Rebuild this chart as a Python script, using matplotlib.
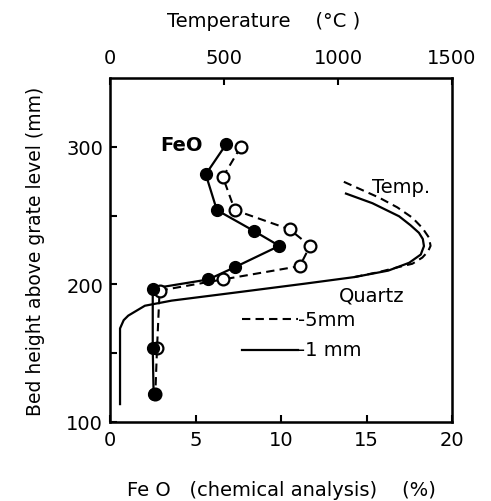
import matplotlib

matplotlib.use("Agg")
import matplotlib.pyplot as plt

plt.rcParams["font.family"] = ["DejaVu Sans"]

# FeO (%) vs bed height (mm)
height_1mm = [302, 280, 254, 238.6, 228, 212.5, 203.6, 197, 153.6, 120]
feo_1mm = [6.8, 5.6, 6.25, 8.45, 9.9, 7.3, 5.75, 2.5, 2.5, 2.55]
height_5mm = [300, 278, 254, 240, 228, 213.3, 203.6, 195.5, 153.6, 120]
feo_5mm = [7.65, 6.6, 7.3, 10.5, 11.7, 11.1, 6.6, 2.9, 2.75, 2.65]

# Temperature (deg C) vs bed height (mm)
temp_h_1mm = [113, 168, 174, 177.3, 184.5, 188.2, 194.3, 200.5, 205.3, 210,
              215.7, 221.7, 227.8, 233, 237.5, 243, 249.5, 259, 266]
temp_1mm = [44, 44, 60, 80, 153, 270, 561, 853, 1071, 1220,
            1312, 1363, 1377, 1372, 1355, 1318, 1268, 1151, 1035]
temp_h_5mm = [205.3, 209, 212.7, 215, 219.5, 224, 228, 234, 241, 248.5, 256, 263, 275.5]
temp_5mm = [1071, 1180, 1268, 1326, 1370, 1395, 1406, 1399, 1370, 1326, 1260, 1181, 1013]

feo_ticks = [0, 5, 10, 15, 20]
temp_ticks = [0, 500, 1000, 1500]
height_ticks = [100, 200, 300]

fs = 14
fig = plt.figure(figsize=(4.91, 5.02), dpi=100)
ax = fig.add_axes([110 / 491, 1 - 423 / 502, 342 / 491, 344 / 502])

ax.plot(feo_5mm, height_5mm, "k--", lw=1.5, dashes=(4, 2.5), zorder=2)
ax.plot(feo_1mm, height_1mm, "k-", lw=1.6, zorder=2)
ax.plot(feo_5mm, height_5mm, "o", ms=8.5, mfc="white", mec="black", mew=1.6, zorder=3)
ax.plot(feo_1mm, height_1mm, "o", ms=8.5, mfc="black", mec="black", zorder=4)

ax.set_xlim(0, 20)
ax.set_ylim(100, 350)
ax.set_xticks(feo_ticks)
ax.set_yticks(height_ticks)
ax.set_yticks([150, 250], minor=True)
ax.tick_params(axis="both", direction="in", labelsize=fs, width=1.5, length=5, pad=5)
ax.tick_params(axis="y", which="minor", direction="in", width=1.5, length=5)
ax.tick_params(axis="x", pad=6)
for s in ax.spines.values():
    s.set_linewidth(1.8)

ax.set_xlabel("Fe O   (chemical analysis)    (%)", fontsize=fs, labelpad=22)
ax.set_ylabel("Bed height above grate level (mm)", fontsize=13.5, labelpad=15)

ax2 = ax.twiny()
ax2.plot(temp_5mm, temp_h_5mm, "k--", lw=1.5, dashes=(4, 2.5))
ax2.plot(temp_1mm, temp_h_1mm, "k-", lw=1.6)
ax2.set_xlim(0, 1500)
ax2.set_xticks(temp_ticks)
ax2.tick_params(axis="x", direction="in", labelsize=fs, width=1.5, length=5, pad=8)
ax2.set_xlabel("Temperature    (°C )", fontsize=fs, labelpad=16, x=0.45)
ax2.set_ylim(100, 350)

ax.text(4.2, 302, "FeO", fontsize=fs, fontweight="bold", ha="center", va="center")
ax.text(17.0, 271, "Temp.", fontsize=fs, ha="center", va="center")

# legend drawn by hand like the original
ax.text(15.3, 192, "Quartz", fontsize=fs, ha="center", va="center")
ax.plot([7.7, 11.0], [174.5, 174.5], "k--", lw=1.5, dashes=(4, 2.5))
ax.text(11.0, 174.5, "-5mm", fontsize=fs, ha="left", va="center")
ax.plot([7.7, 11.0], [152.5, 152.5], "k-", lw=1.6)
ax.text(11.0, 152.5, "-1 mm", fontsize=fs, ha="left", va="center")

fig.savefig("out.png", dpi=100)
